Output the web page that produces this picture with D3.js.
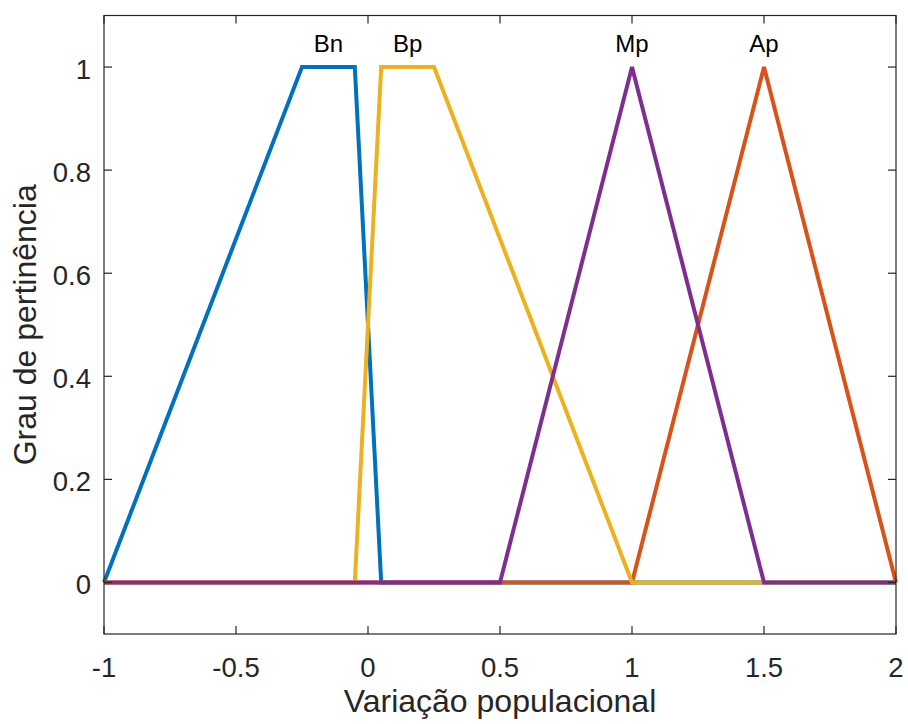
<!DOCTYPE html>
<html>
<head>
<meta charset="utf-8">
<script src="https://cdn.jsdelivr.net/npm/d3@7"></script>
<style>
  html, body { margin: 0; padding: 0; background: #fff; }
  svg { display: block; font-family: "Liberation Sans", Arial, Helvetica, sans-serif; }
</style>
</head>
<body>
<svg id="chart" width="908" height="724"></svg>
<script>
// Membership function breakpoints (x, grau) over the universe [-1, 2]
const bnX = [-1, -0.25, -0.05, 0.05, 2];
const bnY = [0, 1, 1, 0, 0];
const apX = [-1, 1, 1.5, 2];
const apY = [0, 0, 1, 0];
const bpX = [-1, -0.05, 0.05, 0.25, 1, 2];
const bpY = [0, 0, 1, 1, 0, 0];
const mpX = [-1, 0.5, 1, 1.5, 2];
const mpY = [0, 0, 1, 0, 0];

// Draw order and colours (MATLAB default palette)
const seriesNames = ["Bn", "Ap", "Bp", "Mp"];
const seriesColors = ["#0072BD", "#D95319", "#EDB120", "#7E2F8E"];

// Label text and anchor positions (data units)
const labelNames = ["Bn", "Bp", "Mp", "Ap"];
const labelX = [-0.15, 0.15, 1, 1.5];
const labelY = [1.05, 1.05, 1.05, 1.05];

const xTicks = [-1, -0.5, 0, 0.5, 1, 1.5, 2];
const xTickLabels = ["-1", "-0.5", "0", "0.5", "1", "1.5", "2"];
const yTicks = [0, 0.2, 0.4, 0.6, 0.8, 1];
const yTickLabels = ["0", "0.2", "0.4", "0.6", "0.8", "1"];

const xLabel = "Variação populacional";
const yLabel = "Grau de pertinência";

const seriesX = { Bn: bnX, Ap: apX, Bp: bpX, Mp: mpX };
const seriesY = { Bn: bnY, Ap: apY, Bp: bpY, Mp: mpY };

const boxL = 104, boxR = 896, boxT = 15.5, boxB = 634;
const axisColor = "#262626";

const svg = d3.select("#chart");
const x = d3.scaleLinear().domain([-1, 2]).range([boxL, boxR]);
const y = d3.scaleLinear().domain([-0.1, 1.1]).range([boxB, boxT]);

// Curves, clipped to the axes box
svg.append("clipPath").attr("id", "plotclip")
  .append("rect").attr("x", boxL - 2).attr("y", boxT).attr("width", boxR - boxL + 4).attr("height", boxB - boxT);

const line = d3.line().x(d => x(d[0])).y(d => y(d[1]));
const plot = svg.append("g").attr("clip-path", "url(#plotclip)");
seriesNames.forEach((name, i) => {
  const pts = seriesX[name].map((v, k) => [v, seriesY[name][k]]);
  plot.append("path")
    .datum(pts)
    .attr("d", line)
    .attr("fill", "none")
    .attr("stroke", seriesColors[i])
    .attr("stroke-width", 4)
    .attr("stroke-linejoin", "miter");
});

// Axes box with inward ticks on all four sides
const tickLen = 8;
const axG = svg.append("g").attr("stroke", axisColor).attr("stroke-width", 1.2).attr("fill", "none");
axG.append("rect").attr("x", boxL).attr("y", boxT).attr("width", boxR - boxL).attr("height", boxB - boxT);
xTicks.forEach(t => {
  axG.append("line").attr("x1", x(t)).attr("x2", x(t)).attr("y1", boxB).attr("y2", boxB - tickLen);
  axG.append("line").attr("x1", x(t)).attr("x2", x(t)).attr("y1", boxT).attr("y2", boxT + tickLen);
});
yTicks.forEach(t => {
  axG.append("line").attr("x1", boxL).attr("x2", boxL + tickLen).attr("y1", y(t)).attr("y2", y(t));
  axG.append("line").attr("x1", boxR).attr("x2", boxR - tickLen).attr("y1", y(t)).attr("y2", y(t));
});

// Tick labels
svg.append("g").selectAll("text").data(xTicks).join("text")
  .attr("x", d => x(d))
  .attr("y", 677)
  .attr("text-anchor", "middle")
  .attr("font-size", 27.5)
  .attr("fill", axisColor)
  .text((d, i) => xTickLabels[i]);

svg.append("g").selectAll("text").data(yTicks).join("text")
  .attr("x", 91)
  .attr("y", d => y(d))
  .attr("dy", "0.42em")
  .attr("text-anchor", "end")
  .attr("font-size", 27.5)
  .attr("fill", axisColor)
  .text((d, i) => yTickLabels[i]);

// Axis titles
svg.append("text")
  .attr("x", (boxL + boxR) / 2)
  .attr("y", 712)
  .attr("text-anchor", "middle")
  .attr("font-size", 32)
  .attr("fill", axisColor)
  .text(xLabel);

svg.append("text")
  .attr("transform", `translate(36,${(boxT + boxB) / 2}) rotate(-90)`)
  .attr("text-anchor", "middle")
  .attr("font-size", 32)
  .attr("fill", axisColor)
  .text(yLabel);

// Membership function names
svg.append("g").selectAll("text").data(labelNames).join("text")
  .attr("x", (d, i) => x(labelX[i]))
  .attr("y", (d, i) => y(labelY[i]))
  .attr("dy", "0.45em")
  .attr("text-anchor", "middle")
  .attr("font-size", 24)
  .attr("fill", "#000")
  .text(d => d);
</script>
</body>
</html>
